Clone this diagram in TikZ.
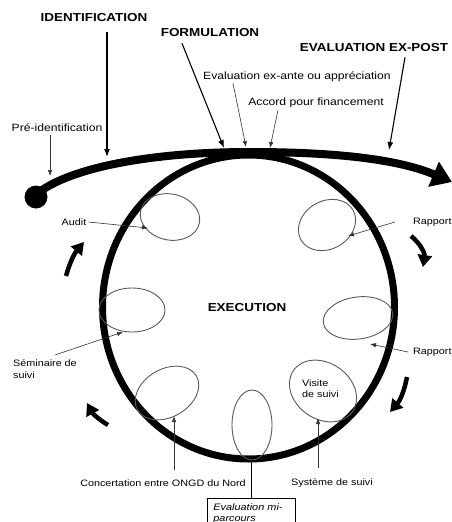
\documentclass[tikz,border=0pt]{standalone}
\usepackage{fontspec}
\setmainfont{Liberation Sans}[FakeStretch=1.16]
\usetikzlibrary{arrows.meta}

\begin{document}
\begin{tikzpicture}[x=1pt,y=-1pt,
    titre/.style={inner sep=0pt,font=\fontsize{11.6}{13}\selectfont\bfseries},
    etiq/.style={inner sep=0pt,font=\fontsize{10.5}{12}\selectfont},
    petit/.style={inner sep=0pt,font=\fontsize{9.3}{11}\selectfont},
    fleche/.style={line width=0.6pt,black!80,-{Latex[length=6pt,width=4.5pt]}},
    grosse/.style={line width=1.1pt,-{Latex[length=8pt,width=6pt]}},
    tour/.style={line width=4.5pt,-{Triangle[length=12pt,width=14pt]}},
    bulle/.style={line width=0.9pt,black!65}]

  % Cadre de l'image
  \useasboundingbox (0,0) rectangle (451,522);

  % Rayons du cercle d'execution
  \def\rx{146} % rayon horizontal
  \def\ry{152} % rayon vertical

  % Centre du cercle et point de depart
  \coordinate (C) at (248.5,307);
  \coordinate (point) at (36,197);

  % Cercle de l'execution
  \draw[line width=7pt] (C) ellipse [x radius=\rx, y radius=\ry];

  % Fleche du cycle
  \coordinate (depart) at (38,193);
  \coordinate (sommet) at (250,152);
  \coordinate (fin) at (452,182);
  \draw[line width=8pt,-{Triangle[length=20pt,width=26pt]}]
    (depart) .. controls (70,168) and (150,152) .. (sommet)
             .. controls (340,152) and (400,160) .. (fin);
  \fill (point) circle (11.5);

  % Bulles sur le cercle
  \coordinate (bAudit) at (170,217);
  \coordinate (bRapA) at (327,225);
  \coordinate (bSemin) at (132,310);
  \coordinate (bRapB) at (358,318);
  \coordinate (bConcert) at (167,393);
  \coordinate (bMi) at (252,425);
  \coordinate (bVisite) at (323,391);
  \draw[bulle] (bAudit) ellipse [x radius=30, y radius=23, rotate=-12];
  \draw[bulle] (bRapA) ellipse [x radius=30, y radius=24, rotate=30];
  \draw[bulle] (bSemin) ellipse [x radius=33, y radius=22];
  \draw[bulle] (bRapB) ellipse [x radius=35, y radius=21, rotate=8];
  \draw[bulle] (bConcert) ellipse [x radius=34, y radius=24, rotate=30];
  \draw[bulle] (bMi) ellipse [x radius=20, y radius=35];
  \draw[bulle] (bVisite) ellipse [x radius=36, y radius=28, rotate=-35];

  % Phases
  \node[titre] (identif) at (94,18) {IDENTIFICATION};
  \node[titre] (formul) at (210,33) {FORMULATION};
  \node[titre] (expost) at (374,48) {EVALUATION EX-POST};
  \node[titre] (exec) at (247,308) {EXECUTION};

  % Etapes
  \node[etiq] (exante) at (297,77) {Evaluation ex-ante ou appréciation};
  \node[etiq] (accord) at (316,103) {Accord pour financement};
  \node[etiq] (preid) at (57,128) {Pré-identification};
  \node[petit] (audit) at (74,222) {Audit};
  \node[petit,anchor=west] (rapA) at (413,222) {Rapport};
  \node[petit,anchor=north west,align=left,
        font=\fontsize{9.3}{12}\selectfont] (semin) at (13,359) {Séminaire de\\suivi};
  \node[petit,anchor=west] (rapB) at (413,352) {Rapport};
  \node[petit,anchor=west,align=left] (visite) at (302,389) {Visite\\de suivi};
  \node[petit] (concert) at (163,483) {Concertation entre ONGD du Nord};
  \node[petit] (systeme) at (332,483) {Système de suivi};
  \node[draw,line width=0.8pt,anchor=north west,align=left,inner xsep=6pt,
        inner ysep=5pt,text width=76pt,
        font=\fontsize{9.4}{11}\selectfont\itshape] (boite) at (207,498)
        {Evaluation mi-\\parcours};

  % Points vises
  \coordinate (cIdentif) at (107,157);
  \coordinate (cFormul) at (224,148);
  \coordinate (cExpost) at (389,150);
  \coordinate (cExante) at (246,147);
  \coordinate (cAccord) at (270,148);
  \coordinate (cPreid) at (50,176);
  \coordinate (cAudit) at (148,228);
  \coordinate (cRapA) at (348,236);
  \coordinate (cSemin) at (123,332);
  \coordinate (cRapB) at (370,344);
  \coordinate (cConcert) at (174,416);
  \coordinate (cSysteme) at (318,418);
  \coordinate (bas) at (251,461);

  % Fleches des phases
  \draw[grosse] ([shift={(13,10)}]identif.south) -- (cIdentif);
  \draw[grosse] ([shift={(-28,6)}]formul.south) -- (cFormul);
  \draw[grosse] ([shift={(31,5)}]expost.south) -- (cExpost);

  % Fleches des etapes
  \draw[fleche] ([shift={(-64,1)}]exante.south) -- (cExante);
  \draw[fleche] ([shift={(-38,2)}]accord.south) -- (cAccord);
  \draw[fleche] ([shift={(-7,3)}]preid.south) -- (cPreid);
  \draw[fleche] ([shift={(2,0)}]audit.east) -- (cAudit);
  \draw[fleche] ([shift={(-18,0)}]rapA.west) -- (cRapA);
  \draw[fleche] ([shift={(-22,-4)}]semin.north east) -- (cSemin);
  \draw[fleche] ([shift={(-5,0)}]rapB.west) -- (cRapB);
  \draw[fleche] ([shift={(11,-9)}]concert.north) -- (cConcert);
  \draw[fleche] ([shift={(-14,-10)}]systeme.north) -- (cSysteme);
  \draw[line width=0.9pt] (bas) -- (boite.north -| bas);

  % Sens de rotation
  \coordinate (t1a) at (66,276);
  \coordinate (t1b) at (84,242);
  \coordinate (t2a) at (411,236);
  \coordinate (t2b) at (423,267);
  \coordinate (t3a) at (108,425);
  \coordinate (t3b) at (87,403);
  \coordinate (t4a) at (407,377);
  \coordinate (t4b) at (390,412);
  \draw[tour] (t1a) to[bend left=12] (t1b);
  \draw[tour] (t2a) to[bend left=30] (t2b);
  \draw[tour] (t3a) to[bend left=15] (t3b);
  \draw[tour] (t4a) to[bend left=15] (t4b);

\end{tikzpicture}
\end{document}
